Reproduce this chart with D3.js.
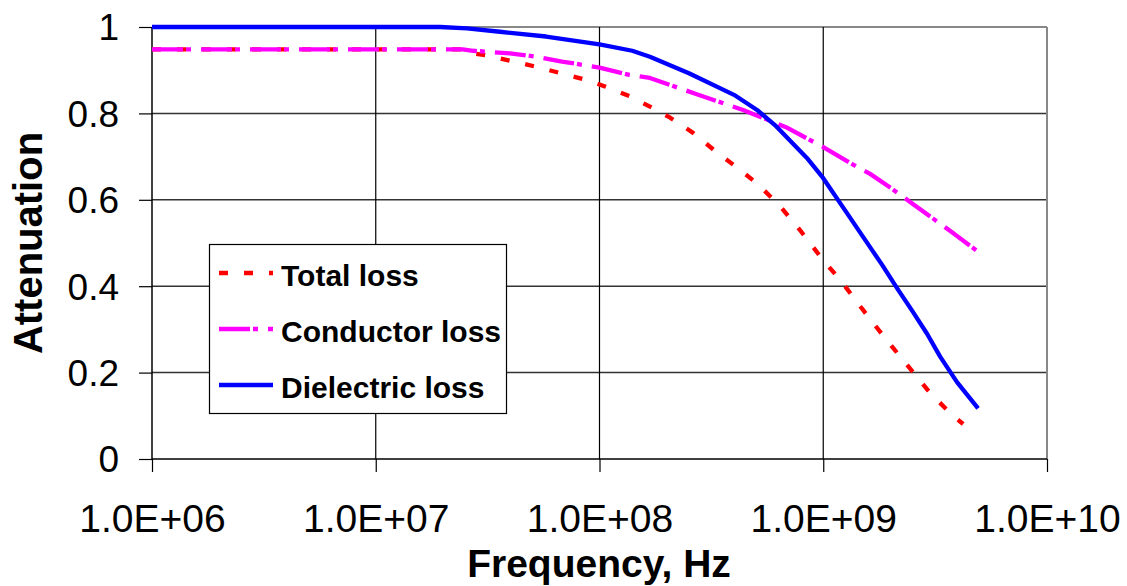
<!DOCTYPE html>
<html>
<head>
<meta charset="utf-8">
<script src="https://cdn.jsdelivr.net/npm/d3@7"></script>
<style>
  html, body { margin: 0; padding: 0; background: #fff; }
  svg { display: block; font-family: "Liberation Sans", Arial, sans-serif; }
</style>
</head>
<body>
<svg id="chart" width="1127" height="586"></svg>
<script>
// ---- data ----
const xTicks = [1e6, 1e7, 1e8, 1e9, 1e10];
const xTickLabels = ["1.0E+06", "1.0E+07", "1.0E+08", "1.0E+09", "1.0E+10"];
const yTicks = [0, 0.2, 0.4, 0.6, 0.8, 1];
const yTickLabels = ["0", "0.2", "0.4", "0.6", "0.8", "1"];
const seriesNames = ["Total loss", "Conductor loss", "Dielectric loss"];

const totalFreq = [1e6, 2.45e7, 2.72e7, 3.14e7, 4.15e7, 5.2e7, 6.73e7, 8.79e7, 1.05e8, 1.36e8, 1.72e8, 2.07e8, 2.62e8, 3.25e8, 3.99e8, 5.06e8, 6.34e8, 7.87e8, 1e9, 1.21e9, 1.43e9, 1.7e9, 2.03e9, 2.44e9, 3.0e9, 3.8e9, 4.22e9];
const totalLoss = [0.948, 0.948, 0.939, 0.934, 0.92, 0.908, 0.893, 0.877, 0.863, 0.84, 0.813, 0.79, 0.755, 0.715, 0.68, 0.638, 0.588, 0.53, 0.46, 0.41, 0.36, 0.31, 0.26, 0.21, 0.153, 0.10, 0.081];

const condFreq = [1e6, 2.45e7, 2.72e7, 3.98e7, 5.26e7, 6.8e7, 1e8, 1.36e8, 1.68e8, 2.7e8, 4.38e8, 6.82e8, 1e9, 1.32e9, 1.62e9, 2.01e9, 2.55e9, 3.09e9, 3.8e9, 4.92e9];
const condLoss = [0.948, 0.948, 0.945, 0.939, 0.931, 0.92, 0.906, 0.889, 0.882, 0.845, 0.808, 0.768, 0.722, 0.685, 0.66, 0.627, 0.588, 0.557, 0.523, 0.48];

const dielFreq = [1e6, 1.94e7, 2.56e7, 3.59e7, 5.77e7, 1e8, 1.4e8, 1.68e8, 2.51e8, 3.99e8, 5.06e8, 6.08e8, 8.45e8, 1e9, 1.25e9, 1.65e9, 1.83e9, 2.14e9, 2.52e9, 2.91e9, 3.33e9, 3.96e9, 4.92e9];
const dielLoss = [1.0, 1.0, 0.997, 0.989, 0.978, 0.96, 0.945, 0.931, 0.893, 0.843, 0.808, 0.773, 0.697, 0.65, 0.576, 0.484, 0.45, 0.395, 0.34, 0.29, 0.237, 0.178, 0.117];

// ---- layout ----
const svg = d3.select("#chart");
const L = 152, R = 1047, T = 27, B = 459;
const x = d3.scaleLog().domain([1e6, 1e10]).range([L, R]);
const y = d3.scaleLinear().domain([0, 1]).range([B, T]);

const styles = [
  { color: "#ff0000", dash: "9,16", width: 4.3 },
  { color: "#ff00ff", dash: "31,3,5,10", width: 4.3 },
  { color: "#0000ff", dash: null, width: 4.3 }
];

// gridlines
svg.append("g").selectAll("line").data(yTicks.filter(d => d > 0)).join("line")
  .attr("x1", L).attr("x2", R).attr("y1", d => y(d)).attr("y2", d => y(d))
  .attr("stroke", d => d === 1 ? "#888" : "#333").attr("stroke-width", d => d === 1 ? 2 : 1.5);
svg.append("g").selectAll("line").data(xTicks.slice(1, 4)).join("line")
  .attr("x1", d => x(d)).attr("x2", d => x(d)).attr("y1", T).attr("y2", B)
  .attr("stroke", "#000").attr("stroke-width", 1.2);
// right border
svg.append("line").attr("x1", R).attr("x2", R).attr("y1", T).attr("y2", B)
  .attr("stroke", "#888").attr("stroke-width", 2);

// axes
const yAxis = d3.axisLeft(y).tickValues(yTicks).tickSize(13).tickPadding(20)
  .tickFormat((d, i) => yTickLabels[i]);
const gy = svg.append("g").attr("transform", `translate(${L},0)`).call(yAxis);
gy.select(".domain").attr("stroke", "#000").attr("stroke-width", 1.5).attr("d", `M0,${B}V${T}`);
gy.selectAll(".tick line").attr("stroke", "#000").attr("stroke-width", 1.2);
gy.selectAll(".tick text").attr("font-size", 37).attr("fill", "#000")
  .attr("font-family", "Liberation Sans, Arial, sans-serif").attr("dy", "0.35em");

const xAxis = d3.axisBottom(x).tickValues(xTicks).tickSize(13).tickPadding(32)
  .tickFormat((d, i) => xTickLabels[i]);
const gx = svg.append("g").attr("transform", `translate(0,${B})`).call(xAxis);
gx.select(".domain").attr("stroke", "#000").attr("stroke-width", 1.5).attr("d", `M${L},0H${R}`);
gx.selectAll(".tick line").attr("stroke", "#000").attr("stroke-width", 1.2);
gx.selectAll(".tick text").attr("font-size", 39).attr("fill", "#000")
  .attr("font-family", "Liberation Sans, Arial, sans-serif").attr("dy", "0.71em");

// series
const data = [
  totalFreq.map((f, i) => [f, totalLoss[i]]),
  condFreq.map((f, i) => [f, condLoss[i]]),
  dielFreq.map((f, i) => [f, dielLoss[i]])
];
const line = d3.line().x(d => x(d[0])).y(d => y(d[1]));
data.forEach((s, i) => {
  svg.append("path").datum(s).attr("d", line)
    .attr("fill", "none").attr("stroke", styles[i].color)
    .attr("stroke-width", styles[i].width)
    .attr("stroke-dasharray", styles[i].dash)
    .attr("stroke-linejoin", "round");
});

// axis titles
svg.append("text").attr("x", 599).attr("y", 577).attr("text-anchor", "middle")
  .attr("font-size", 39).attr("font-weight", "bold").text("Frequency, Hz");
svg.append("text").attr("transform", "translate(42,243) rotate(-90)").attr("text-anchor", "middle")
  .attr("font-size", 40).attr("font-weight", "bold").text("Attenuation");

// legend
const lg = svg.append("g");
lg.append("rect").attr("x", 209.5).attr("y", 244.5).attr("width", 297).attr("height", 169)
  .attr("fill", "#fff").attr("stroke", "#000").attr("stroke-width", 1.2);
const legY = [273, 329, 385];
seriesNames.forEach((n, i) => {
  lg.append("line").attr("x1", 219).attr("x2", 273).attr("y1", legY[i]).attr("y2", legY[i])
    .attr("stroke", styles[i].color).attr("stroke-width", styles[i].width)
    .attr("stroke-dasharray", styles[i].dash);
  lg.append("text").attr("x", 281).attr("y", legY[i] + 13).attr("font-size", 30)
    .attr("font-weight", "bold").text(n);
});
</script>
</body>
</html>
